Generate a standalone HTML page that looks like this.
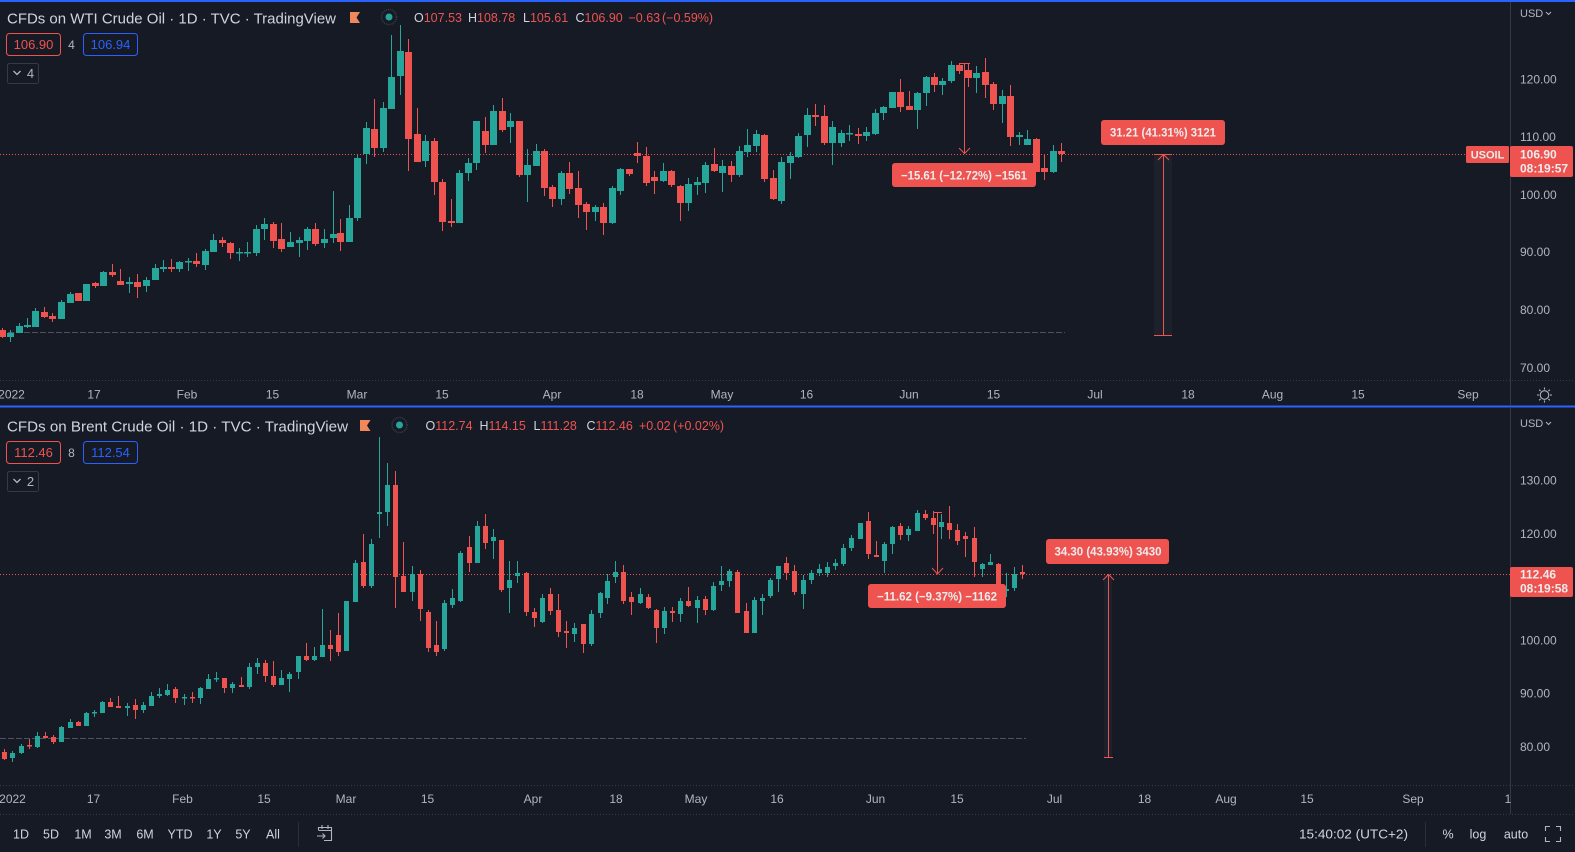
<!DOCTYPE html>
<html><head><meta charset="utf-8">
<style>
html,body{margin:0;padding:0;background:#161a25;width:1575px;height:852px;overflow:hidden}
svg{display:block;font-family:"Liberation Sans",sans-serif}
</style></head><body>
<svg width="1575" height="852" viewBox="0 0 1575 852" xmlns="http://www.w3.org/2000/svg">
<rect x="0" y="0" width="1575" height="852" fill="#161a25"/>

<!-- pane highlight lines -->
<rect x="0" y="0" width="1575" height="2" fill="#2962ff"/>
<rect x="0" y="405.5" width="1575" height="2" fill="#2962ff"/>

<!-- axis dividers -->
<g stroke="#363a45" stroke-width="1" fill="none">
<path d="M1510.5 2V405M1510.5 408V814"/>
<path d="M0 380.5H1575M0 785.5H1575M0 814.5H1575" stroke-dasharray="1 2"/>
</g>

<!-- dashed horizontal rays -->
<g stroke="#4e525e" stroke-width="1" stroke-dasharray="6 2" fill="none">
<path d="M0 332.5H1065"/>
<path d="M0 738.5H1026"/>
</g>

<!-- current price dotted lines -->
<g stroke="#ef5350" stroke-width="1" stroke-dasharray="1 2" fill="none">
<path d="M0 154.5H1466"/>
<path d="M0 574.5H1510"/>
</g>

<!-- measure bands -->
<rect x="1154" y="154" width="18" height="182" fill="#ffffff" opacity="0.03"/>
<rect x="1104" y="574" width="8" height="183" fill="#ffffff" opacity="0.03"/>

<!-- TOP CANDLES -->
<g shape-rendering="crispEdges" fill="none">
<path stroke="#26a69a" stroke-width="1" d="M10.5 330V342M19.5 323V333M27.5 318V328M35.5 308V327M61.5 300V319M70.5 292V303M86.5 284V301M103.5 271V286M129.5 277V293M146.5 277V292M155.5 264V280M163.5 260V272M179.5 261V272M188.5 258V271M205.5 249V270M213.5 234V252M239.5 248V261M247.5 242V257M256.5 225V256M264.5 218V240M290.5 232V247M299.5 237V257M307.5 227V250M324.5 229V248M333.5 191V243M349.5 205V242M357.5 155V221M366.5 122V164M383.5 102V152M391.5 35V109M400.5 25V95M425.5 135V167M459.5 170V223M468.5 158V181M476.5 121V170M493.5 105V145M510.5 113V143M527.5 149V202M536.5 144V166M561.5 171V205M595.5 205V221M612.5 186V224M620.5 168V195M663.5 163V182M688.5 178V211M697.5 177V195M705.5 162V193M722.5 160V192M739.5 146V177M747.5 129V157M756.5 130V152M781.5 157V204M790.5 152V179M798.5 133V158M807.5 108V147M832.5 121V165M841.5 130V147M849.5 125V141M866.5 127V141M875.5 109V135M883.5 106V120M892.5 92V108M917.5 92V129M926.5 76V106M942.5 78V95M951.5 61V83M976.5 66V93M1002.5 90V123M1019.5 132V145M1027.5 130V145M1053.5 145V173"/>
<path stroke="#26a69a" stroke-width="7" d="M10.5 333V337M19.5 326V333M27.5 325V327M35.5 311V327M61.5 302V319M70.5 294V303M86.5 284V301M103.5 272V286M129.5 282V284M146.5 280V286M155.5 268V280M163.5 267V269M179.5 262V269M188.5 261V262.5M205.5 251V265M213.5 240V252M239.5 252V253.5M247.5 252V253.5M256.5 229V253M264.5 224V229M290.5 242V247M299.5 240V243M307.5 229V241M324.5 239V243M333.5 234V238M349.5 218V242M357.5 158V218M366.5 128V154M383.5 108V148M391.5 77V109M400.5 51V76M425.5 141V161M459.5 173V223M468.5 163V173M476.5 121V163M493.5 111V145M510.5 121V127M527.5 165V175M536.5 151V166M561.5 173V199M595.5 207V212M612.5 188V223M620.5 169V191M663.5 171V181M688.5 184V203M697.5 182V185M705.5 165V183M722.5 166V173M739.5 151V175M747.5 145V152M756.5 134V146M781.5 162V201M790.5 156V163M798.5 136V157M807.5 115V135M832.5 127V143M841.5 133V143M849.5 133V134.5M866.5 132V136M875.5 113V134M883.5 107V113M892.5 92V108M917.5 93V110M926.5 77V93M942.5 81V85M951.5 65V81M976.5 73V78M1002.5 96V104M1019.5 135V137M1027.5 139V145M1053.5 151V172"/>
<path stroke="#ef5350" stroke-width="1" d="M2.5 328V338M44.5 307V318M52.5 313V322M78.5 293V301M95.5 282V288M112.5 264V277M120.5 269V285M137.5 274V298M171.5 259V272M196.5 253V267M222.5 237V247M230.5 242V259M273.5 222V248M281.5 223V252M315.5 223V246M340.5 219V251M374.5 99V157M408.5 39V171M417.5 108V162M434.5 138V195M442.5 179V231M451.5 199V227M485.5 117V153M502.5 98V132M519.5 121V177M544.5 149V196M552.5 185V207M569.5 162V194M578.5 171V218M586.5 202V230M603.5 203V235M629.5 169V176M637.5 142V163M646.5 147V186M654.5 171V194M671.5 170V187M680.5 185V221M714.5 148V172M731.5 161V182M764.5 134V182M773.5 170V200M815.5 104V126M824.5 105V145M858.5 128V144M900.5 79V112M909.5 91V110M934.5 73V92M959.5 63V74M968.5 64V87M985.5 58V98M993.5 82V110M1010.5 85V146M1036.5 138V172M1044.5 155V180M1061.5 143V162"/>
<path stroke="#ef5350" stroke-width="7" d="M2.5 330V337M44.5 312V317M52.5 316V319M78.5 293V301M95.5 283V286M112.5 272V275M120.5 281V285M137.5 282V287M171.5 267V269M196.5 261V264M222.5 240V243M230.5 243V253M273.5 224V241M281.5 239V249M315.5 229V244M340.5 233V242M374.5 129V148M408.5 52V139M417.5 134V162M434.5 141V182M442.5 182V222M451.5 221V223M485.5 131V145M502.5 111V130M519.5 121V175M544.5 151V188M552.5 187V199M569.5 173V189M578.5 188V205M586.5 204V212M603.5 207V223M629.5 169V174M637.5 153V156M646.5 156V183M654.5 177V181M671.5 171V185M680.5 186V203M714.5 164V171M731.5 166V175M764.5 135V179M773.5 178V199M815.5 115V117M824.5 116V143M858.5 134V136M900.5 92V107M909.5 106V110M934.5 77V85M959.5 65V71M968.5 70V78M985.5 72V85M993.5 84V104M1010.5 96V137M1036.5 139V172M1044.5 168V172M1061.5 151V154"/>
</g>

<!-- BOTTOM CANDLES -->
<g shape-rendering="crispEdges" fill="none">
<path stroke="#26a69a" stroke-width="1" d="M12.5 751V762M21.5 744V754M37.5 732V748M61.5 726V742M70.5 719V728M86.5 712V726M94.5 710V717M102.5 701V713M127.5 703V716M143.5 702V713M151.5 692V706M159.5 688V698M167.5 684V696M184.5 694V705M200.5 687V704M208.5 674V689M216.5 672V682M232.5 682V693M249.5 663V689M257.5 658V674M281.5 670V685M289.5 672V692M298.5 656V679M314.5 647V661M322.5 609V657M346.5 601V651M355.5 560V602M371.5 539V588M379.5 437V538M387.5 463V526M412.5 566V601M444.5 600V651M452.5 589V608M460.5 551V602M477.5 521V563M493.5 529V559M509.5 561V613M517.5 561V583M542.5 594V623M574.5 623V642M591.5 610V646M600.5 592V618M607.5 574V604M615.5 561V583M640.5 588V604M664.5 607V634M680.5 598V622M697.5 596V623M713.5 582V611M721.5 566V591M729.5 569V587M754.5 597V633M762.5 594V615M770.5 578V598M778.5 566V592M803.5 575V609M811.5 570V584M819.5 564V576M827.5 562V577M835.5 559V570M843.5 544V566M851.5 535V551M860.5 523V539M884.5 542V573M892.5 526V554M908.5 526V541M917.5 510V531M941.5 514V539M982.5 563V577M990.5 554V565M1006.5 573V597M1014.5 567V591"/>
<path stroke="#26a69a" stroke-width="5" d="M12.5 753V758M21.5 746V753M37.5 736V747M61.5 727V742M70.5 722V728M86.5 713V726M94.5 712V713.5M102.5 702V713M127.5 706V708M143.5 705V710M151.5 696V706M159.5 694V696M167.5 690V695M184.5 697V698.5M200.5 688V698M208.5 679V689M216.5 678V679.5M232.5 684V688M249.5 667V687M257.5 663V667M281.5 678V685M289.5 674V679M298.5 656V672M314.5 656V660M322.5 645V657M346.5 601V651M355.5 563V602M371.5 544V586M379.5 512V514M387.5 485V512M412.5 574V592M444.5 603V649M452.5 598V605M460.5 553V601M477.5 526V563M493.5 537V541M509.5 580V588M517.5 573V576M542.5 598V622M574.5 628V634M591.5 614V644M600.5 593V613M607.5 581V598M615.5 572V577M640.5 594V603M664.5 611V628M680.5 601V614M697.5 600V608M713.5 586V610M721.5 581V585M729.5 571V581M754.5 600V633M762.5 598V601M770.5 580V596M778.5 566V579M803.5 580V594M811.5 573V580M819.5 569V573M827.5 567V573M835.5 563V566M843.5 548V564M851.5 538V548M860.5 523V539M884.5 544V561M892.5 527V544M908.5 529V535M917.5 513V531M941.5 522V527M982.5 564V569M990.5 562V565M1006.5 589V591M1014.5 574V588"/>
<path stroke="#ef5350" stroke-width="1" d="M4.5 749V760M29.5 739V749M45.5 732V738M53.5 735V744M78.5 721V726M110.5 698V707M118.5 696V708M135.5 699V719M175.5 687V703M192.5 692V703M224.5 678V693M241.5 677V687M265.5 660V682M273.5 661V687M306.5 643V661M330.5 630V661M338.5 613V656M363.5 534V588M395.5 471V608M403.5 542V592M420.5 570V621M428.5 610V652M436.5 621V656M469.5 536V572M485.5 514V549M501.5 540V592M526.5 572V616M534.5 608V627M550.5 588V615M558.5 594V637M566.5 621V648M583.5 624V653M623.5 565V604M631.5 592V615M648.5 594V609M656.5 609V643M672.5 607V622M688.5 587V607M705.5 596V615M737.5 570V613M746.5 603V633M786.5 557V580M794.5 565V595M868.5 512V559M876.5 541V557M900.5 523V540M925.5 510V520M933.5 511V534M949.5 506V539M957.5 524V545M965.5 532V557M974.5 527V577M998.5 563V585M1022.5 565V579"/>
<path stroke="#ef5350" stroke-width="5" d="M4.5 752V759M29.5 745V746.5M45.5 736V738M53.5 737V742M78.5 722V726M110.5 702V707M118.5 706V708M135.5 705V710M175.5 689V698M192.5 697V698.5M224.5 678V688M241.5 685V687M265.5 663V676M273.5 676V685M306.5 656V660M330.5 645V649M338.5 635V652M363.5 562V586M395.5 485V577M403.5 576V592M420.5 574V609M428.5 612V648M436.5 645V652M469.5 547V563M485.5 526V543M501.5 540V590M526.5 573V612M534.5 612V618M550.5 594V611M558.5 610V632M566.5 631V633M583.5 624V644M623.5 572V601M631.5 597V602M648.5 597V608M656.5 610V628M672.5 611V613M688.5 601V606M705.5 599V610M737.5 572V613M746.5 611V633M786.5 563V573M794.5 571V592M868.5 521V554M876.5 555V557M900.5 526V535M925.5 514V518M933.5 518V525M949.5 523V530M957.5 530V541M965.5 536V539M974.5 538V562M998.5 564V585M1022.5 572V574"/>
</g>

<!-- MEASURE LINES -->
<g stroke="#ef5350" stroke-width="1" fill="none">
<path d="M964.5 63V153M959 63.5H970M959 148L964.5 153.5L970 148"/>
<path d="M1163.5 155V336M1154 154.5H1172M1154 335.5H1172M1158 160L1163.5 154.5L1169 160"/>
<path d="M937.5 512V574M933 512.5H942M932 568L937.5 574L943 568"/>
<path d="M1108.5 575V757M1104 757.5H1113M1103 580L1108.5 574.5L1114 580"/>
</g>

<!-- MEASURE LABELS -->
<g font-weight="bold" font-size="12" fill="#ececec" text-anchor="middle">
<rect x="892" y="163" width="144" height="24" rx="3" fill="#ef5350"/>
<text x="964" y="179.5" textLength="126" lengthAdjust="spacingAndGlyphs">−15.61 (−12.72%) −1561</text>
<rect x="1101" y="120" width="124" height="25" rx="3" fill="#ef5350"/>
<text x="1163" y="136.5" textLength="106" lengthAdjust="spacingAndGlyphs">31.21 (41.31%) 3121</text>
<rect x="868" y="584" width="138" height="24" rx="3" fill="#ef5350"/>
<text x="937" y="600.5" textLength="120" lengthAdjust="spacingAndGlyphs">−11.62 (−9.37%) −1162</text>
<rect x="1046" y="539" width="123" height="25" rx="3" fill="#ef5350"/>
<text x="1108" y="555.5" textLength="107" lengthAdjust="spacingAndGlyphs">34.30 (43.93%) 3430</text>
</g>

<!-- TOP HEADER -->
<text x="7" y="23.5" font-size="15" fill="#d1d4dc" textLength="329" lengthAdjust="spacingAndGlyphs">CFDs on WTI Crude Oil · 1D · TVC · TradingView</text>
<path d="M350 12H360L356.5 17.5L360 23H350Z" fill="#f0885c"/>
<circle cx="389" cy="17" r="7.5" fill="none" stroke="#3a3f4c" stroke-width="1.5" stroke-dasharray="1 1"/>
<circle cx="389" cy="17" r="3.5" fill="#26a69a"/>
<g font-size="12.5" fill="#ef5350">
<text x="414" y="22"><tspan fill="#d1d4dc">O</tspan>107.53</text>
<text x="468" y="22"><tspan fill="#d1d4dc">H</tspan>108.78</text>
<text x="523" y="22"><tspan fill="#d1d4dc">L</tspan>105.61</text>
<text x="575.5" y="22"><tspan fill="#d1d4dc">C</tspan>106.90</text>
<text x="628.5" y="22">−0.63</text>
<text x="662" y="22">(−0.59%)</text>
</g>
<rect x="6.5" y="33.5" width="54" height="22" rx="3" fill="none" stroke="#ef5350"/>
<text x="33.5" y="49" font-size="13" fill="#ef5350" text-anchor="middle">106.90</text>
<text x="71.5" y="49" font-size="12" fill="#b2b5be" text-anchor="middle">4</text>
<rect x="83.5" y="33.5" width="54" height="22" rx="3" fill="none" stroke="#2962ff"/>
<text x="110.5" y="49" font-size="13" fill="#2962ff" text-anchor="middle">106.94</text>
<rect x="7.5" y="63.5" width="31" height="20" rx="2" fill="none" stroke="#363a45"/>
<path d="M13.5 71L17 74.5L20.5 71" stroke="#b2b5be" stroke-width="1.3" fill="none"/>
<text x="30.5" y="78" font-size="13" fill="#b2b5be" text-anchor="middle">4</text>

<!-- BOTTOM HEADER -->
<text x="7" y="431.5" font-size="15" fill="#d1d4dc" textLength="341" lengthAdjust="spacingAndGlyphs">CFDs on Brent Crude Oil · 1D · TVC · TradingView</text>
<path d="M360 420H370.5L367 425.5L370.5 431H360Z" fill="#f0885c"/>
<circle cx="399.5" cy="425" r="7.5" fill="none" stroke="#3a3f4c" stroke-width="1.5" stroke-dasharray="1 1"/>
<circle cx="399.5" cy="425" r="3.5" fill="#26a69a"/>
<g font-size="12.5" fill="#ef5350">
<text x="425.5" y="430"><tspan fill="#d1d4dc">O</tspan>112.74</text>
<text x="479.5" y="430"><tspan fill="#d1d4dc">H</tspan>114.15</text>
<text x="533.5" y="430"><tspan fill="#d1d4dc">L</tspan>111.28</text>
<text x="586.5" y="430"><tspan fill="#d1d4dc">C</tspan>112.46</text>
<text x="639" y="430">+0.02</text>
<text x="673" y="430">(+0.02%)</text>
</g>
<rect x="6.5" y="441.5" width="54" height="22" rx="3" fill="none" stroke="#ef5350"/>
<text x="33.5" y="457" font-size="13" fill="#ef5350" text-anchor="middle">112.46</text>
<text x="71.5" y="457" font-size="12" fill="#b2b5be" text-anchor="middle">8</text>
<rect x="83.5" y="441.5" width="54" height="22" rx="3" fill="none" stroke="#2962ff"/>
<text x="110.5" y="457" font-size="13" fill="#2962ff" text-anchor="middle">112.54</text>
<rect x="7.5" y="471.5" width="31" height="20" rx="2" fill="none" stroke="#363a45"/>
<path d="M13.5 479L17 482.5L20.5 479" stroke="#b2b5be" stroke-width="1.3" fill="none"/>
<text x="30.5" y="486" font-size="13" fill="#b2b5be" text-anchor="middle">2</text>

<!-- PRICE AXIS LABELS -->
<g font-size="12" fill="#b2b5be">
<text x="1520" y="17" font-size="11">USD</text>
<path d="M1546 12L1548.5 14.5L1551 12" stroke="#b2b5be" fill="none"/>
<text x="1520" y="83.5">120.00</text>
<text x="1520" y="140.8">110.00</text>
<text x="1520" y="198.8">100.00</text>
<text x="1520" y="256.2">90.00</text>
<text x="1520" y="314.2">80.00</text>
<text x="1520" y="372.2">70.00</text>
<text x="1520" y="427" font-size="11">USD</text>
<path d="M1546 422L1548.5 424.5L1551 422" stroke="#b2b5be" fill="none"/>
<text x="1520" y="484.5">130.00</text>
<text x="1520" y="538">120.00</text>
<text x="1520" y="644.5">100.00</text>
<text x="1520" y="697.5">90.00</text>
<text x="1520" y="751.2">80.00</text>
</g>

<!-- PRICE TAGS -->
<rect x="1466" y="146" width="43" height="17" rx="1.5" fill="#ef5350"/>
<text x="1487.5" y="158.5" font-size="11" font-weight="bold" fill="#ececec" text-anchor="middle">USOIL</text>
<rect x="1510" y="146" width="63" height="31" rx="2" fill="#ef5350"/>
<g font-size="12" font-weight="bold" fill="#ececec">
<text x="1520" y="158.5">106.90</text>
<text x="1520" y="172.5">08:19:57</text>
</g>
<rect x="1510" y="567" width="63" height="30" rx="2" fill="#ef5350"/>
<g font-size="12" font-weight="bold" fill="#ececec">
<text x="1520" y="578.5">112.46</text>
<text x="1520" y="592.5">08:19:58</text>
</g>

<!-- TIME AXIS TOP -->
<g font-size="12" fill="#b2b5be" text-anchor="middle">
<text x="11.5" y="398.5">2022</text>
<text x="94" y="398.5">17</text>
<text x="187" y="398.5">Feb</text>
<text x="272.5" y="398.5">15</text>
<text x="357" y="398.5">Mar</text>
<text x="442" y="398.5">15</text>
<text x="552" y="398.5">Apr</text>
<text x="637" y="398.5">18</text>
<text x="722" y="398.5">May</text>
<text x="806.5" y="398.5">16</text>
<text x="909" y="398.5">Jun</text>
<text x="993.5" y="398.5">15</text>
<text x="1095" y="398.5">Jul</text>
<text x="1188" y="398.5">18</text>
<text x="1272.5" y="398.5">Aug</text>
<text x="1358" y="398.5">15</text>
<text x="1468" y="398.5">Sep</text>
</g>
<g stroke="#b2b5be" stroke-width="1.1" fill="none">
<circle cx="1544.5" cy="395" r="4.3"/>
<path d="M1550 395H1552M1539 395H1537M1544.5 400.5V402.5M1544.5 389.5V387.5M1548.4 398.9L1549.8 400.3M1540.6 398.9L1539.2 400.3M1540.6 391.1L1539.2 389.7M1548.4 391.1L1549.8 389.7"/>
</g>

<!-- TIME AXIS BOTTOM -->
<g font-size="12" fill="#b2b5be" text-anchor="middle">
<text x="12.5" y="803">2022</text>
<text x="93.5" y="803">17</text>
<text x="182.5" y="803">Feb</text>
<text x="264" y="803">15</text>
<text x="346" y="803">Mar</text>
<text x="427.5" y="803">15</text>
<text x="533" y="803">Apr</text>
<text x="616" y="803">18</text>
<text x="696" y="803">May</text>
<text x="777" y="803">16</text>
<text x="875.5" y="803">Jun</text>
<text x="957" y="803">15</text>
<text x="1054.5" y="803">Jul</text>
<text x="1144.5" y="803">18</text>
<text x="1226" y="803">Aug</text>
<text x="1307" y="803">15</text>
<text x="1413" y="803">Sep</text>
<text x="1508" y="803">1</text>
</g>

<!-- BOTTOM TOOLBAR -->
<g font-size="12.5" fill="#d1d4dc" text-anchor="middle">
<text x="21" y="838.5">1D</text>
<text x="51" y="838.5">5D</text>
<text x="83" y="838.5">1M</text>
<text x="113" y="838.5">3M</text>
<text x="145" y="838.5">6M</text>
<text x="180" y="838.5">YTD</text>
<text x="214" y="838.5">1Y</text>
<text x="243" y="838.5">5Y</text>
<text x="273" y="838.5">All</text>
<text x="1448" y="838.5">%</text>
<text x="1478" y="838.5">log</text>
<text x="1516" y="838.5">auto</text>
</g>
<text x="1299" y="838.5" font-size="12.5" fill="#d1d4dc" textLength="109" lengthAdjust="spacingAndGlyphs">15:40:02 (UTC+2)</text>
<g stroke="#2a2e39" stroke-width="1">
<path d="M298.5 822V847M1425.5 822V847"/>
</g>
<g stroke="#b2b5be" stroke-width="1.1" fill="none">
<path d="M318.5 830V827.5H331.5V840.5H324M318.5 830.5H331.5M322 825V829M328 825V829M317 836H325M322.5 833.5L325 836L322.5 838.5"/>
<path d="M1545.5 831V826.5H1550M1556 826.5H1560.5V831M1560.5 837V841.5H1556M1550 841.5H1545.5V837"/>
</g>
</svg>
</body></html>
